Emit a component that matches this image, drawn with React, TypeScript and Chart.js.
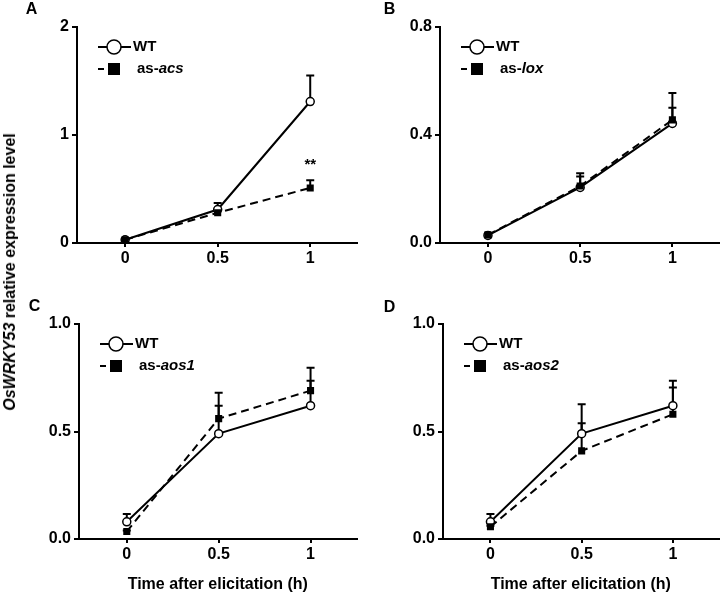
import React, { useEffect, useRef } from 'react';
import { Chart, registerables } from 'chart.js';

Chart.register(...registerables);

const FONT = 'Arial, "Liberation Sans", Helvetica, sans-serif';

// ---- shared ----
const timePoints = [0, 0.5, 1];
const xTickLabels = ['0', '0.5', '1'];
const xTitle = 'Time after elicitation (h)';
const wtLabel = 'WT';

// ---- Panel A (as-acs) ----
const wtA = [0.03, 0.31, 1.31];
const wtErrA = [0.01, 0.06, 0.24];
const acsA = [0.03, 0.28, 0.51];
const acsErrA = [0.01, 0.03, 0.07];
const yTicksA = [0, 1, 2];
const yLabelsA = ['0', '1', '2'];
const sigA = [{ x: 1, y: 0.72, text: '**' }];

// ---- Panel B (as-lox) ----
const wtB = [0.028, 0.206, 0.443];
const wtErrB = [0.006, 0.04, 0.058];
const loxB = [0.03, 0.211, 0.456];
const loxErrB = [0.005, 0.047, 0.1];
const yTicksB = [0, 0.4, 0.8];
const yLabelsB = ['0.0', '0.4', '0.8'];

// ---- Panel C (as-aos1) ----
const wtC = [0.08, 0.49, 0.62];
const wtErrC = [0.036, 0.13, 0.116];
const aos1C = [0.035, 0.56, 0.69];
const aos1ErrC = [0.005, 0.12, 0.107];
const yTicksC = [0, 0.5, 1];
const yLabelsC = ['0.0', '0.5', '1.0'];

// ---- Panel D (as-aos2) ----
const wtD = [0.08, 0.49, 0.62];
const wtErrD = [0.036, 0.137, 0.116];
const aos2D = [0.057, 0.41, 0.58];
const aos2ErrD = [0.005, 0.128, 0.125];
const yTicksD = [0, 0.5, 1];
const yLabelsD = ['0.0', '0.5', '1.0'];

const panels = [
  { letter: 'A', letterX: 31.5, letterY: 9, left: 0, top: 0, width: 362, height: 290, yWidth: 77, padTop: 27, padRight: 4, xHeight: 47,
    yMax: 2, yTicks: yTicksA, yLabels: yLabelsA, wt: wtA, wtErr: wtErrA, mut: acsA, mutErr: acsErrA, mutGene: 'acs', xTitle: false, sig: sigA },
  { letter: 'B', letterX: 389.5, letterY: 9, left: 362, top: 0, width: 362, height: 290, yWidth: 78, padTop: 27, padRight: 3, xHeight: 47,
    yMax: 0.8, yTicks: yTicksB, yLabels: yLabelsB, wt: wtB, wtErr: wtErrB, mut: loxB, mutErr: loxErrB, mutGene: 'lox', xTitle: false, sig: [] },
  { letter: 'C', letterX: 34.5, letterY: 305.5, left: 0, top: 290, width: 362, height: 303, yWidth: 79, padTop: 34, padRight: 4, xHeight: 54,
    yMax: 1, yTicks: yTicksC, yLabels: yLabelsC, wt: wtC, wtErr: wtErrC, mut: aos1C, mutErr: aos1ErrC, mutGene: 'aos1', xTitle: true, sig: [] },
  { letter: 'D', letterX: 389.5, letterY: 307, left: 362, top: 290, width: 362, height: 303, yWidth: 81, padTop: 34, padRight: 3, xHeight: 54,
    yMax: 1, yTicks: yTicksD, yLabels: yLabelsD, wt: wtD, wtErr: wtErrD, mut: aos2D, mutErr: aos2ErrD, mutGene: 'aos2', xTitle: true, sig: [] },
];

const decorPlugin = {
  id: 'decor',
  beforeDatasetsDraw(chart: any) {
    const ctx = chart.ctx;
    const xs = chart.scales.x;
    const ys = chart.scales.y;
    chart.data.datasets.forEach((ds: any) => {
      const errs: number[] = ds.errors || [];
      ds.data.forEach((pt: any, i: number) => {
        const x = xs.getPixelForValue(pt.x);
        const y0 = ys.getPixelForValue(pt.y);
        const y1 = ys.getPixelForValue(pt.y + (errs[i] || 0));
        ctx.save();
        ctx.strokeStyle = '#000';
        ctx.lineWidth = 2;
        ctx.setLineDash([]);
        ctx.beginPath();
        ctx.moveTo(x, y0);
        ctx.lineTo(x, y1);
        ctx.moveTo(x - 4, y1);
        ctx.lineTo(x + 4, y1);
        ctx.stroke();
        ctx.restore();
      });
    });
  },
  afterDraw(chart: any, _args: any, opts: any) {
    const ctx = chart.ctx;
    const { left, top } = chart.chartArea;
    ctx.save();
    ctx.strokeStyle = '#000';
    ctx.fillStyle = '#000';
    ctx.textBaseline = 'middle';
    // row 1: WT
    const r1 = top + 20;
    ctx.lineWidth = 2;
    ctx.beginPath();
    ctx.moveTo(left + 21, r1);
    ctx.lineTo(left + 54, r1);
    ctx.stroke();
    ctx.beginPath();
    ctx.arc(left + 37, r1, 7, 0, Math.PI * 2);
    ctx.fillStyle = '#fff';
    ctx.fill();
    ctx.lineWidth = 1.5;
    ctx.stroke();
    ctx.fillStyle = '#000';
    ctx.font = `bold 15px ${FONT}`;
    ctx.textAlign = 'left';
    ctx.fillText(wtLabel, left + 56, r1);
    // row 2: mutant
    const r2 = top + 42;
    ctx.lineWidth = 2;
    ctx.beginPath();
    ctx.moveTo(left + 21, r2);
    ctx.lineTo(left + 27, r2);
    ctx.stroke();
    ctx.fillRect(left + 31, r2 - 6, 12, 12);
    const tx = left + 60;
    ctx.font = `bold 15px ${FONT}`;
    ctx.fillText('as-', tx, r2);
    const w = ctx.measureText('as-').width;
    ctx.font = `italic bold 15px ${FONT}`;
    ctx.fillText(opts.gene, tx + w, r2);
    // significance marks
    ctx.font = `bold 15px ${FONT}`;
    ctx.textAlign = 'center';
    (opts.sig || []).forEach((s: any) => {
      ctx.fillText(s.text, chart.scales.x.getPixelForValue(s.x), chart.scales.y.getPixelForValue(s.y));
    });
    ctx.restore();
  },
};

function Panel({ p }: { p: any }) {
  const ref = useRef<HTMLCanvasElement>(null);
  useEffect(() => {
    if (!ref.current) return;
    const tickFont = { family: FONT, size: 16, weight: 'bold' as const };
    const chart = new Chart(ref.current, {
      type: 'line',
      data: {
        datasets: [
          {
            label: 'as-' + p.mutGene,
            data: timePoints.map((t, i) => ({ x: t, y: p.mut[i] })),
            errors: p.mutErr,
            borderColor: '#000',
            borderWidth: 2,
            borderDash: [8, 5],
            pointStyle: 'rect',
            pointRadius: 5,
            pointBackgroundColor: '#000',
            pointBorderColor: '#000',
            pointBorderWidth: 0,
            tension: 0,
            fill: false,
            order: 0,
          } as any,
          {
            label: wtLabel,
            data: timePoints.map((t, i) => ({ x: t, y: p.wt[i] })),
            errors: p.wtErr,
            borderColor: '#000',
            borderWidth: 2,
            pointStyle: 'circle',
            pointRadius: 4,
            pointBackgroundColor: '#fff',
            pointBorderColor: '#000',
            pointBorderWidth: 1.5,
            tension: 0,
            fill: false,
            order: 1,
          } as any,
        ],
      },
      options: {
        responsive: false,
        maintainAspectRatio: false,
        animation: false,
        layout: { padding: { left: 0, right: p.padRight, top: p.padTop, bottom: 0 } },
        plugins: {
          legend: { display: false },
          tooltip: { enabled: false },
          decor: { gene: p.mutGene, sig: p.sig },
        } as any,
        scales: {
          x: {
            type: 'linear',
            min: -0.26,
            max: 1.25,
            afterBuildTicks: (s: any) => { s.ticks = timePoints.map((v) => ({ value: v })); },
            afterFit: (s: any) => { s.height = p.xHeight; },
            ticks: {
              callback: (_v: any, i: number) => xTickLabels[i],
              font: tickFont,
              color: '#000',
              padding: 2,
              maxRotation: 0,
              autoSkip: false,
            },
            grid: { display: true, drawOnChartArea: false, drawTicks: true, tickLength: 4, color: '#000', lineWidth: 2 },
            border: { display: true, color: '#000', width: 2 },
            title: {
              display: p.xTitle,
              text: xTitle,
              color: '#000',
              font: { family: FONT, size: 16, weight: 'bold', lineHeight: 1 },
              padding: { top: 0, bottom: 0 },
            },
          },
          y: {
            type: 'linear',
            min: 0,
            max: p.yMax,
            afterBuildTicks: (s: any) => { s.ticks = p.yTicks.map((v: number) => ({ value: v })); },
            afterFit: (s: any) => { s.width = p.yWidth; },
            ticks: {
              callback: (_v: any, i: number) => p.yLabels[i],
              font: tickFont,
              color: '#000',
              padding: 3,
              autoSkip: false,
            },
            grid: { display: true, drawOnChartArea: false, drawTicks: true, tickLength: 5, color: '#000', lineWidth: 2 },
            border: { display: true, color: '#000', width: 2 },
          },
        },
      } as any,
      plugins: [decorPlugin],
    });
    return () => chart.destroy();
  }, [p]);
  return (
    <canvas
      ref={ref}
      width={p.width}
      height={p.height}
      style={{ position: 'absolute', left: p.left, top: p.top, width: p.width, height: p.height }}
    />
  );
}

export default function App() {
  return (
    <div style={{ position: 'fixed', left: 0, top: 0, width: 724, height: 593, background: '#fff', overflow: 'hidden' }}>
      {panels.map((p) => (
        <Panel key={p.letter} p={p} />
      ))}
      {panels.map((p) => (
        <div
          key={'l' + p.letter}
          style={{
            position: 'absolute', left: p.letterX, top: p.letterY, transform: 'translate(-50%, -50%)',
            font: `bold 16px ${FONT}`, lineHeight: 1, color: '#000',
          }}
        >
          {p.letter}
        </div>
      ))}
      <div
        style={{
          position: 'absolute', left: 10, top: 272, transform: 'translate(-50%, -50%) rotate(-90deg)',
          font: `bold 16px ${FONT}`, lineHeight: 1, whiteSpace: 'nowrap', color: '#000',
        }}
      >
        <span style={{ fontStyle: 'italic' }}>OsWRKY53</span> relative expression level
      </div>
    </div>
  );
}
